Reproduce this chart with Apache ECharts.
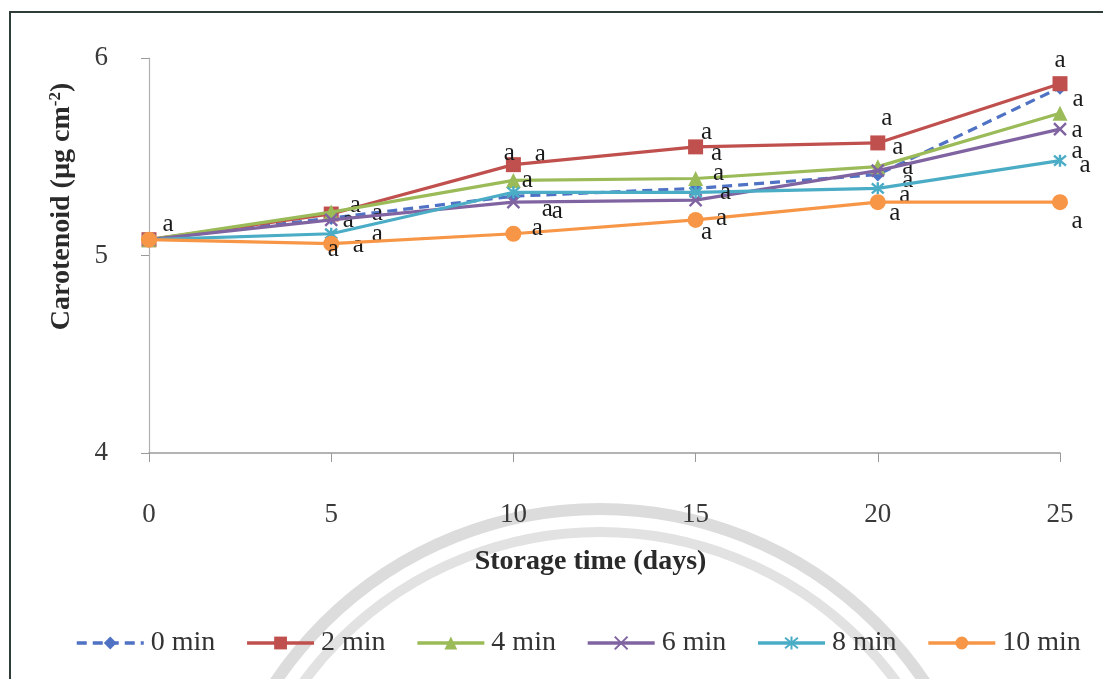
<!DOCTYPE html>
<html>
<head>
<meta charset="utf-8">
<script src="https://cdn.jsdelivr.net/npm/echarts@6/dist/echarts.min.js"></script>
<style>
html,body{margin:0;padding:0;background:#fff;}
#c{width:1103px;height:679px;}
</style>
</head>
<body>
<div id="c"></div>
<script>
// ---- data ----
const days = [0, 5, 10, 15, 20, 25];
const seriesNames = ['0 min', '2 min', '4 min', '6 min', '8 min', '10 min'];
const min0  = [5.08, 5.19, 5.30, 5.34, 5.41, 5.85];
const min2  = [5.08, 5.21, 5.46, 5.55, 5.57, 5.87];
const min4  = [5.08, 5.22, 5.38, 5.39, 5.45, 5.72];
const min6  = [5.08, 5.18, 5.27, 5.28, 5.43, 5.64];
const min8  = [5.08, 5.11, 5.32, 5.32, 5.34, 5.48];
const min10 = [5.08, 5.06, 5.11, 5.18, 5.27, 5.27];
const sigLetters = ['a', 'a', 'a', 'a', 'a', 'a'];
const yTicks = [4, 5, 6];

// ---- styling (label offsets in px, relative to each point) ----
const labelOffsets = [
  [null, [17, 2], [27, -42], [21, -35], [20, -27], [18, 12]],
  [null, [24, -9], [-4, -11], [11, -14], [9, -24], [0, -23]],
  [null, [46, 1], [14, 0], [23, -5], [30, 1], [17, 38]],
  [null, [46, 14], [44, 9], [11, 32], [30, 10], [17, 1]],
  [null, [27, 12], [34, 17], [30, 0], [27, 7], [25, 5]],
  [[19, -15], [2, 6], [24, -5], [26, -2], [17, 11], [17, 19]]
];
const colors = ['#4F72C4', '#C0504D', '#9BBB59', '#8064A2', '#4BACC6', '#F79646'];
const symbols = [
  'diamond', 'rect', 'triangle',
  'path://M0,0L10,10M10,0L0,10',
  'path://M0,0L10,10M10,0L0,10M5,-1L5,11',
  'circle'
];
const symbolSizes = [14, 15, 15, 12, 12, 16];
const allVals = [min0, min2, min4, min6, min8, min10];
const serif = '"Liberation Serif", "DejaVu Serif", serif';

const series = allVals.map((vals, s) => {
  const strokeOnly = s === 3 || s === 4;
  return {
    name: seriesNames[s],
    type: 'line',
    symbol: symbols[s],
    symbolSize: symbolSizes[s],
    lineStyle: { color: colors[s], width: 3.2, type: s === 0 ? [10, 6] : 'solid' },
    itemStyle: strokeOnly
      ? { color: colors[s], borderColor: colors[s], borderWidth: 2.4 }
      : { color: colors[s] },
    z: 2 + s,
    data: days.map((d, i) => {
      const off = labelOffsets[s][i];
      return {
        value: [d, vals[i]],
        label: off ? {
          show: true, position: 'inside', offset: off,
          formatter: sigLetters[i],
          color: '#1a1a1a', fontFamily: serif, fontSize: 25
        } : { show: false }
      };
    })
  };
});

const chart = echarts.init(document.getElementById('c'), null, { renderer: 'canvas' });
chart.setOption({
  backgroundColor: '#ffffff',
  animation: false,
  grid: { left: 149, right: 43, top: 58, bottom: 226, containLabel: false },
  xAxis: {
    type: 'value', min: 0, max: 25, interval: 5,
    name: 'Storage time (days)', nameLocation: 'middle', nameGap: 95,
    nameTextStyle: { fontFamily: serif, fontSize: 28, fontWeight: 'bold', color: '#2a2a2a', padding: [0, 28, 0, 0] },
    axisLine: { show: true, lineStyle: { color: '#9a9a9a', width: 1.5 } },
    axisTick: { show: true, length: 9, lineStyle: { color: '#9a9a9a' } },
    axisLabel: { margin: 48, fontFamily: serif, fontSize: 27, color: '#3a3a3a' },
    splitLine: { show: false }
  },
  yAxis: {
    type: 'value', min: yTicks[0], max: yTicks[yTicks.length - 1], interval: 1,
    name: '{b|Carotenoid (µg cm}{s|-2}{b|)}', nameLocation: 'middle', nameGap: 72,
    nameTextStyle: {
      padding: [0, 0, 0, 98],
      rich: {
        b: { fontFamily: serif, fontSize: 28, fontWeight: 'bold', color: '#2a2a2a', lineHeight: 30 },
        s: { fontFamily: serif, fontSize: 17, fontWeight: 'bold', color: '#2a2a2a', verticalAlign: 'top', lineHeight: 30, padding: [0, 0, 12, 0] }
      }
    },
    axisLine: { show: true, lineStyle: { color: '#b0b0b0', width: 1.2 } },
    axisTick: { show: true, length: 8, lineStyle: { color: '#9a9a9a' } },
    axisLabel: { margin: 41, fontFamily: serif, fontSize: 27, color: '#3a3a3a' },
    splitLine: { show: false }
  },
  legend: {
    data: seriesNames,
    top: 624, left: 70,
    itemWidth: 67, itemHeight: 16, itemGap: 30,
    lineStyle: { width: 3.5 },
    textStyle: { fontFamily: serif, fontSize: 28, color: '#333', padding: [0, 0, 0, 2] }
  },
  graphic: [
    { type: 'arc', silent: true, z: -10, shape: { cx: 600, cy: 900, r: 391, startAngle: Math.PI, endAngle: 2 * Math.PI }, style: { stroke: '#dcdcdc', lineWidth: 12, fill: null } },
    { type: 'arc', silent: true, z: -10, shape: { cx: 600, cy: 900, r: 368, startAngle: Math.PI, endAngle: 2 * Math.PI }, style: { stroke: '#e2e2e2', lineWidth: 10, fill: null } },
    { type: 'rect', silent: true, z: 100, shape: { x: 10, y: 12, width: 1200, height: 800 }, style: { stroke: '#2f3d38', lineWidth: 2, fill: null } }
  ],
  series: series
});
</script>
</body>
</html>
